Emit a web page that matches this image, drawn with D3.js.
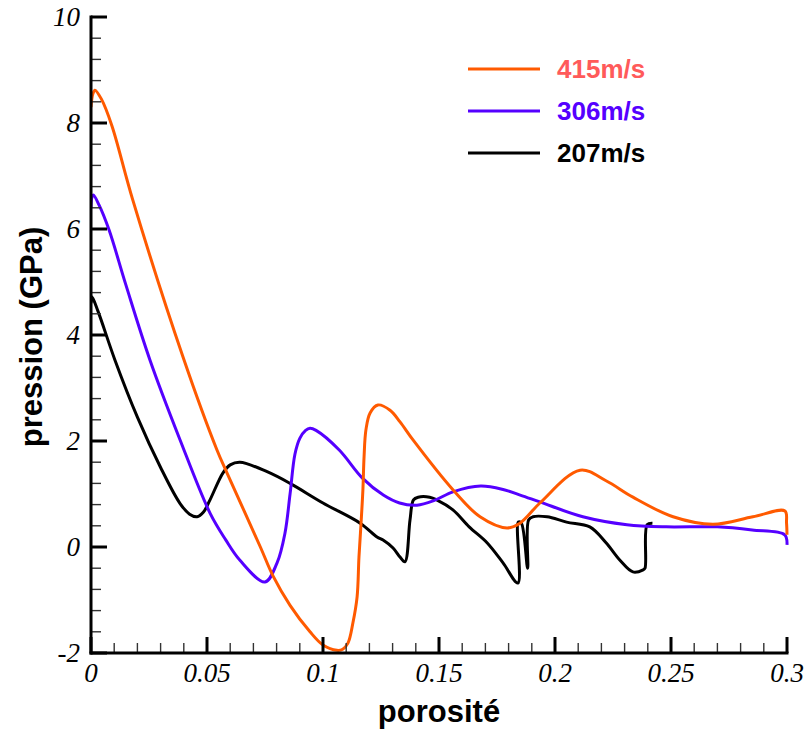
<!DOCTYPE html>
<html><head><meta charset="utf-8">
<script src="https://cdn.jsdelivr.net/npm/d3@7"></script>
<style>html,body{margin:0;padding:0;background:#fff;}</style>
</head><body>
<svg id="chart" width="805" height="737"></svg>
<script>
const seriesNames = ["415m/s", "306m/s", "207m/s"];
const lineColors = ["#ff5a00", "#5500ff", "#000000"];
const textColors = ["#ff5a5a", "#5500ff", "#000000"];

const x415 = [0, 0.0008, 0.0017, 0.0045, 0.009, 0.018, 0.0397, 0.0543, 0.0586, 0.073, 0.0785, 0.0858, 0.0944, 0.1, 0.106, 0.1085, 0.1108, 0.1129, 0.1147, 0.1155, 0.1164, 0.1172, 0.1177, 0.1185, 0.1203, 0.1237, 0.1289, 0.1332, 0.1388, 0.156, 0.1677, 0.1793, 0.1849, 0.1935, 0.2108, 0.222, 0.2336, 0.2509, 0.2681, 0.2853, 0.2991, 0.2998, 0.3];
const p415 = [8.3, 8.55, 8.62, 8.45, 7.95, 6.55, 3.58, 1.83, 1.40, 0.0, -0.55, -1.1, -1.6, -1.85, -1.95, -1.93, -1.81, -1.43, -0.94, -0.19, 0.45, 1.08, 1.7, 2.21, 2.53, 2.68, 2.58, 2.36, 2.02, 1.08, 0.57, 0.36, 0.45, 0.83, 1.45, 1.25, 0.94, 0.57, 0.43, 0.57, 0.68, 0.45, 0.23];

const x306 = [0, 0.0004, 0.001, 0.0035, 0.0078, 0.015, 0.0254, 0.0384, 0.0513, 0.058, 0.0642, 0.075, 0.0802, 0.0836, 0.0858, 0.0879, 0.09, 0.0925, 0.0944, 0.097, 0.107, 0.117, 0.126, 0.133, 0.1405, 0.148, 0.156, 0.168, 0.178, 0.185, 0.1935, 0.212, 0.231, 0.248, 0.27, 0.285, 0.299, 0.3];
const p306 = [6.4, 6.6, 6.64, 6.45, 5.98, 4.95, 3.53, 2.02, 0.64, 0.14, -0.25, -0.66, -0.30, 0.26, 1.0, 1.75, 2.05, 2.2, 2.24, 2.2, 1.83, 1.30, 0.98, 0.83, 0.79, 0.88, 1.04, 1.15, 1.08, 0.98, 0.85, 0.57, 0.42, 0.38, 0.38, 0.32, 0.23, 0.04];

const x207 = [0, 0.0004, 0.003, 0.0103, 0.02, 0.03, 0.0384, 0.0425, 0.0457, 0.0485, 0.0513, 0.0569, 0.06, 0.0642, 0.0759, 0.0858, 0.1, 0.116, 0.1233, 0.1259, 0.1302, 0.1332, 0.1353, 0.1375, 0.139, 0.141, 0.146, 0.149, 0.156, 0.163, 0.1707, 0.1776, 0.184, 0.1842, 0.1855, 0.1882, 0.1886, 0.1905, 0.1966, 0.205, 0.215, 0.222, 0.228, 0.2336, 0.238, 0.2388, 0.2397, 0.242];
const p207 = [4.6, 4.72, 4.45, 3.53, 2.45, 1.5, 0.82, 0.62, 0.57, 0.66, 0.89, 1.4, 1.55, 1.6, 1.42, 1.2, 0.83, 0.45, 0.19, 0.13, -0.02, -0.19, -0.28, 0.51, 0.89, 0.94, 0.94, 0.89, 0.7, 0.38, 0.08, -0.3, -0.68, 0.47, 0.45, -0.40, 0.51, 0.57, 0.57, 0.47, 0.38, 0.08, -0.25, -0.47, -0.43, -0.40, 0.42, 0.45];

const xTicks = [0, 0.05, 0.1, 0.15, 0.2, 0.25, 0.3];
const xTickLabels = ["0", "0.05", "0.1", "0.15", "0.2", "0.25", "0.3"];
const yTicks = [-2, 0, 2, 4, 6, 8, 10];
const yTickLabels = ["-2", "0", "2", "4", "6", "8", "10"];
const xTitle = "porosité";
const yTitle = "pression (GPa)";

const svg = d3.select("#chart");
const x = d3.scaleLinear().domain([0, 0.3]).range([91, 787]);
const y = d3.scaleLinear().domain([-2, 10]).range([653, 17]);

svg.append("clipPath").attr("id", "clip").append("rect")
  .attr("x", 91).attr("y", 0).attr("width", 714).attr("height", 653);

const data = [
  x415.map((v, i) => [v, p415[i]]),
  x306.map((v, i) => [v, p306[i]]),
  x207.map((v, i) => [v, p207[i]])
];
const line = d3.line().x(d => x(d[0])).y(d => y(d[1])).curve(d3.curveCatmullRom.alpha(0.5));
const drawOrder = [2, 1, 0];
drawOrder.forEach(i => {
  svg.append("path").datum(data[i]).attr("d", line)
    .attr("fill", "none").attr("stroke", lineColors[i]).attr("stroke-width", 3)
    .attr("stroke-linejoin", "round").attr("clip-path", "url(#clip)");
});

// minor ticks
const g = svg.append("g");
const yMinor = d3.range(-2, 10.001, 0.4).filter(v => Math.abs(v/2 - Math.round(v/2)) > 1e-6);
yMinor.forEach(v => g.append("line").attr("x1", 91).attr("x2", 101)
  .attr("y1", y(v)).attr("y2", y(v)).attr("stroke", "#333").attr("stroke-width", 1.4));
const xMinor = d3.range(0, 0.3001, 0.01).filter(v => Math.abs(v/0.05 - Math.round(v/0.05)) > 1e-6);
xMinor.forEach(v => g.append("line").attr("y1", 653).attr("y2", 643)
  .attr("x1", x(v)).attr("x2", x(v)).attr("stroke", "#333").attr("stroke-width", 1.4));
// major ticks
yTicks.forEach(v => g.append("line").attr("x1", 91).attr("x2", 107)
  .attr("y1", y(v)).attr("y2", y(v)).attr("stroke", "#000").attr("stroke-width", 3));
xTicks.forEach(v => g.append("line").attr("y1", 653).attr("y2", 637)
  .attr("x1", x(v)).attr("x2", x(v)).attr("stroke", "#000").attr("stroke-width", 3));
// axis lines
g.append("line").attr("x1", 91).attr("x2", 91).attr("y1", y(10) - 1.5).attr("y2", 654.5)
  .attr("stroke", "#000").attr("stroke-width", 3);
g.append("line").attr("x1", 89.5).attr("x2", x(0.3) + 1.5).attr("y1", 653).attr("y2", 653)
  .attr("stroke", "#000").attr("stroke-width", 3);

// tick labels
yTicks.forEach((v, i) => svg.append("text").attr("x", 80).attr("y", y(v) + 9)
  .attr("text-anchor", "end").attr("font-family", "Liberation Serif, Times New Roman, serif")
  .attr("font-style", "italic").attr("font-size", 27).text(yTickLabels[i]));
xTicks.forEach((v, i) => svg.append("text").attr("x", x(v)).attr("y", 682)
  .attr("text-anchor", "middle").attr("font-family", "Liberation Serif, Times New Roman, serif")
  .attr("font-style", "italic").attr("font-size", 27).text(xTickLabels[i]));

// axis titles
svg.append("text").attr("x", 439).attr("y", 722).attr("text-anchor", "middle")
  .attr("font-family", "Liberation Sans, Arial, sans-serif").attr("font-weight", "bold")
  .attr("font-size", 31).text(xTitle);
svg.append("text").attr("transform", "translate(42,337) rotate(-90)").attr("text-anchor", "middle")
  .attr("font-family", "Liberation Sans, Arial, sans-serif").attr("font-weight", "bold")
  .attr("font-size", 31).text(yTitle);

// legend
const legY = [69, 111, 153];
seriesNames.forEach((n, i) => {
  svg.append("line").attr("x1", 468).attr("x2", 540).attr("y1", legY[i]).attr("y2", legY[i])
    .attr("stroke", lineColors[i]).attr("stroke-width", 3);
  svg.append("text").attr("x", 557).attr("y", legY[i] + 9)
    .attr("font-family", "Liberation Sans, Arial, sans-serif").attr("font-weight", "bold")
    .attr("font-size", 26).attr("fill", textColors[i]).text(n);
});
</script>
</body></html>
